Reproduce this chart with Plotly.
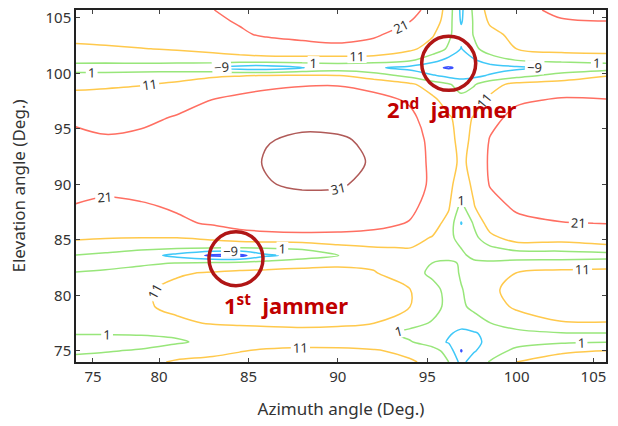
import plotly.graph_objects as go

# Azimuth grid (deg) and elevation grid (deg)
azimuth = [75.3, 77, 79, 81, 83, 84.5, 86, 88, 90, 92, 94, 95.3, 96.2, 96.9, 97.6, 98.5, 100, 102.5, 105]
elevation = [74, 75, 75.8, 76.6, 77.5, 79, 80.5, 82, 82.9, 83.6, 84.3, 85.2, 86.5, 88, 90, 92, 94,
             96, 97.6, 99, 99.8, 100.5, 101.2, 102.2, 103.5, 104.7, 105.7]

# Pattern level (dB), one row per elevation
z_el_74_0 = [3, 4.5, 7.5, 12.5, 14, 15, 16, 16.5, 16.5, 15.5, 12.5, 8, 1, -12, -4, 1.5, 11, 14, 15]
z_el_75_0 = [0, 0.5, 1.8, 5, 8, 10.5, 12.5, 13.5, 13.5, 12.3, 8, 5, -3, -19.5, -10, -3, 3, 10, 11.3]
z_el_75_8 = [-2, -2.5, -2, 0, 3, 4.5, 6, 7, 6.5, 4, 2, -4, -10, -16, -12, -6, -2, -0.5, 0.8]
z_el_76_6 = [1.5, 1.7, 2, 2.5, 4, 6, 7.5, 8.5, 8, 5, -2, -5, -8, -11, -10, -6, -2, 0.5, 0.8]
z_el_77_5 = [4.5, 5, 6.5, 9, 11.8, 12.5, 12.8, 13, 12.5, 11.1, 5, 0, -4, -6, -3, 0.8, 6, 10.5, 10.7]
z_el_79_0 = [6.5, 7.5, 9.5, 13.5, 15.5, 16.5, 17, 17, 16.5, 15, 11.3, 5, -2, -0.5, 3, 7, 12.5, 15, 15]
z_el_80_5 = [6, 7.5, 9.5, 13.5, 15.5, 16.5, 17, 17, 16.5, 15, 11.5, 4, -2, 0.5, 4, 9.5, 13.5, 15, 15]
z_el_82_0 = [1.3, 2.5, 5, 10, 12, 13.5, 14, 14, 13.5, 11.8, 5, -1, -3, 2, 5, 8, 11.2, 13.5, 14]
z_el_82_9 = [-1.5, -2, -0.5, 1.5, 3, 4, 5.5, 8, 9.5, 9, 5, 0.8, -1, 2, 3, 3, 5, 6, 7]
z_el_83_6 = [0.8, -1, -4.5, -12, -21, -22, -11, -5, 0.5, 6, 8, 7, 5, 3, -1.5, -4, -5, -5, -4]
z_el_84_3 = [6.8, 5, 3.5, 2.5, 1.8, 1.5, 2, 3, 8, 10.5, 11.2, 9, 5, 0.8, -2, -0.5, 5, 6, 9]
z_el_85_2 = [12.3, 11.5, 11.1, 11.2, 14, 17, 18, 18.5, 18.5, 17.5, 14, 10.5, 4, -3, -2, 8, 16, 15, 15.5]
z_el_86_5 = [17, 16.5, 17.5, 19.5, 22, 24, 25, 25.5, 25, 24, 20.5, 14.5, 8, -9.5, 2, 16, 18.5, 20.5, 21.2]
z_el_88_0 = [20.8, 19, 20, 22, 24, 25.5, 27, 28, 27.5, 26, 23.5, 17, 12, -2, 10.5, 17.5, 22.5, 26, 26]
z_el_90_0 = [22.5, 23.5, 24.5, 26, 27.5, 28.5, 30.6, 32, 31.85, 29, 25, 19.5, 13, 7, 12.5, 21.5, 26.5, 28.5, 28.5]
z_el_92_0 = [24, 24, 25, 26.5, 28, 28.7, 31.5, 33, 32.7, 30.5, 26, 19, 13, 10, 12.5, 22.5, 28, 29.5, 29.5]
z_el_94_0 = [22.5, 22, 23, 25, 27.5, 28.5, 30.73, 31.8, 31.67, 30, 25.5, 18.5, 12.5, 9.5, 12, 21.5, 27, 29, 29]
z_el_96_0 = [20, 18, 19, 21.7, 24, 25.5, 27, 29.5, 29, 27, 23, 17, 12, 8, 11.5, 18, 24, 27, 27]
z_el_97_6 = [15, 15, 16, 17.5, 21.2, 23, 24.5, 25.5, 25.5, 24, 20, 13, 7, 4, 7, 13, 19.5, 22, 21.3]
z_el_99_0 = [8.5, 9.5, 10.5, 12.5, 15.5, 17.5, 19, 20.3, 20.5, 18, 13, 6, 2, -3, 0, 7, 14, 15, 16]
z_el_99_8 = [3.7, 4, 5.5, 7.5, 9.7, 10.5, 11.2, 11.5, 11.5, 6, -2, -8, -12, -13, -12, -8, -3, 5, 10.5]
z_el_100_5 = [-3, -3.5, -4.5, -6, -8.8, -14, -15, -9.2, -6, -7.5, -12, -17, -20, -17, -15, -14, -11, -7.5, -4]
z_el_101_2 = [3.8, 4, 5, 5.5, 6.5, 7, 7.5, 7, 6.5, 6, 3, -5, -12, -14, -10, -3, 1.5, 4, 4.5]
z_el_102_2 = [9.5, 10, 10.7, 11.8, 13.5, 15.5, 17.5, 19, 20, 19, 13, 7, -0.5, -9.5, -1, 5, 11, 14.5, 15.5]
z_el_103_5 = [13.5, 14, 15.5, 17, 18.5, 20.2, 21.8, 22.5, 22.5, 21.7, 19, 12, 3, -6, 1.5, 8, 14, 18, 19]
z_el_104_7 = [15, 16, 17.5, 18.5, 20, 21.5, 22.5, 23.5, 23.5, 23, 21.2, 17, 5, -10, 2, 12.5, 17, 20.5, 21]
z_el_105_7 = [16, 17.5, 19, 20, 20.9, 22.5, 23.5, 24.5, 24.5, 24, 22.5, 19.5, 6, -11, 3, 15, 19, 22.5, 24]

z_rows = [z_el_74_0, z_el_75_0, z_el_75_8, z_el_76_6, z_el_77_5, z_el_79_0, z_el_80_5, z_el_82_0,
          z_el_82_9, z_el_83_6, z_el_84_3, z_el_85_2, z_el_86_5, z_el_88_0, z_el_90_0, z_el_92_0,
          z_el_94_0, z_el_96_0, z_el_97_6, z_el_99_0, z_el_99_8, z_el_100_5, z_el_101_2, z_el_102_2,
          z_el_103_5, z_el_104_7, z_el_105_7]

# Jammer directions (azimuth, elevation) and labels
jammer_az = [84.3, 96.2]
jammer_el = [83.3, 100.9]
jammer_labels = ["<b>1<sup>st</sup>  jammer</b>", "<b>2<sup>nd</sup>  jammer</b>"]
jammer_label_az = [87.1, 96.4]
jammer_label_el = [79.2, 96.8]

# Axis tick labels
x_tick_vals = [76.3, 80, 85, 90, 95, 100, 104.3]
x_tick_text = ["75", "80", "85", "90", "95", "100", "105"]
y_tick_vals = [75, 80, 85, 90, 95, 100, 105]

FONT = "Noto Sans"

colorscale = [
    [0.0, "#3a50ff"], [0.1, "#3a50ff"],
    [0.1, "#3fc8f8"], [0.3, "#3fc8f8"],
    [0.3, "#98e67a"], [0.5, "#98e67a"],
    [0.5, "#ffc94c"], [0.7, "#ffc94c"],
    [0.7, "#ff6f62"], [0.9, "#ff6f62"],
    [0.9, "#b05a58"], [1.0, "#b05a58"],
]

fig = go.Figure()
fig.add_trace(go.Contour(
    x=azimuth, y=elevation, z=z_rows,
    zmin=-19, zmax=31, zauto=False,
    colorscale=colorscale, showscale=False,
    contours=dict(start=-19, end=31, size=10, coloring="lines", showlabels=True,
                  labelfont=dict(family=FONT, size=13, color="#333333")),
    line=dict(width=1.5, smoothing=0.9),
    hoverinfo="skip",
))

fig.add_trace(go.Scatter(
    x=jammer_az, y=jammer_el, mode="markers",
    marker=dict(symbol="circle-open", size=54, color="#b01515", line=dict(width=3.5, color="#b01515")),
    hoverinfo="skip", showlegend=False,
))

for t, ax_, el_ in zip(jammer_labels, jammer_label_az, jammer_label_el):
    fig.add_annotation(x=ax_, y=el_, text=t, showarrow=False,
                       font=dict(family=FONT, size=22, color="#c00000"))

fig.update_layout(
    width=618, height=426,
    margin=dict(l=76, r=12, t=7, b=64),
    paper_bgcolor="white", plot_bgcolor="white",
    font=dict(family=FONT, size=15, color="#333333"),
    showlegend=False,
)
fig.update_xaxes(
    range=[75.35, 105.0], tickvals=x_tick_vals, ticktext=x_tick_text,
    tickfont=dict(size=15),
    showgrid=False, zeroline=False, showline=True, linecolor="#222222", linewidth=1.5,
    mirror="ticks", ticks="inside", ticklen=4, tickcolor="#444444",
    title=dict(text="Azimuth angle (Deg.)", font=dict(size=17, color="#333333"), standoff=18),
)
fig.update_yaxes(
    range=[74.0, 105.7], tickvals=y_tick_vals,
    tickfont=dict(size=15),
    showgrid=False, zeroline=False, showline=True, linecolor="#222222", linewidth=1.5,
    mirror="ticks", ticks="inside", ticklen=4, tickcolor="#444444",
    title=dict(text="Elevation angle (Deg.)", font=dict(size=17, color="#333333"), standoff=16),
)

fig.write_html("out.html")
